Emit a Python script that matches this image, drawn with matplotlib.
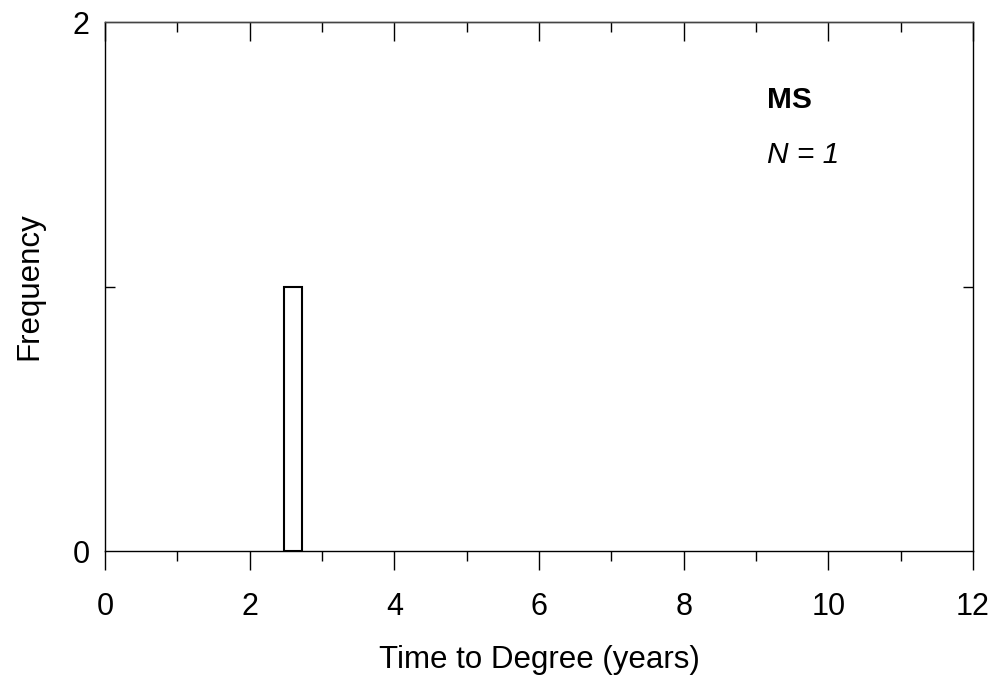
import numpy as np
import matplotlib
matplotlib.use("Agg")
import matplotlib.pyplot as plt
from matplotlib.ticker import FixedLocator

plt.rcParams['font.family'] = ['Liberation Sans', 'DejaVu Sans']

# data
times = [2.6]
bin_edges = [2.47, 2.73]
x_ticks = [0, 2, 4, 6, 8, 10, 12]
x_minor = [1, 3, 5, 7, 9, 11]
y_ticks = [0, 2]
y_minor = [1]
group = "MS"
n_label = "N = 1"

fig = plt.figure(figsize=(9.96, 6.84), dpi=100)
ax = fig.add_axes([0.1054, 0.1944, 0.8715, 0.7734])

ax.hist(times, bins=bin_edges, facecolor='white', edgecolor='black', linewidth=1.5)

ax.set_xlim(0, 12)
ax.set_ylim(0, 2)
ax.xaxis.set_major_locator(FixedLocator(x_ticks))
ax.xaxis.set_minor_locator(FixedLocator(x_minor))
ax.yaxis.set_major_locator(FixedLocator(y_ticks))
ax.yaxis.set_minor_locator(FixedLocator(y_minor))

ax.tick_params(axis='x', which='major', direction='out', length=13.7, width=1, labelsize=22, pad=15.5, top=False)
ax.tick_params(axis='x', which='minor', direction='out', length=7.2, width=1, top=False)
ax.tick_params(axis='y', which='major', length=0, labelsize=22, pad=11)
ax.tick_params(axis='y', which='minor', direction='in', length=7.2, width=1, left=True, right=True)

# inward ticks along the top
top = ax.secondary_xaxis('top')
top.xaxis.set_major_locator(FixedLocator(x_ticks))
top.xaxis.set_minor_locator(FixedLocator(x_minor))
top.tick_params(which='major', direction='in', length=13.7, width=1, labeltop=False)
top.tick_params(which='minor', direction='in', length=7.2, width=1)
top.spines['top'].set_linewidth(1)
top.spines['top'].set_color('#444444')

for s in ax.spines.values():
    s.set_linewidth(1)
ax.spines['top'].set_color('#444444')

ax.set_xlabel("Time to Degree (years)", fontsize=22.5, labelpad=17)
ax.set_ylabel("Frequency", fontsize=22.5, labelpad=20)

ax.text(9.15, 1.705, group, fontsize=21.5, fontweight='bold', va='center', ha='left')
ax.text(9.15, 1.497, n_label, fontsize=21.5, style='italic', va='center', ha='left')

fig.savefig("out.png", dpi=100)
